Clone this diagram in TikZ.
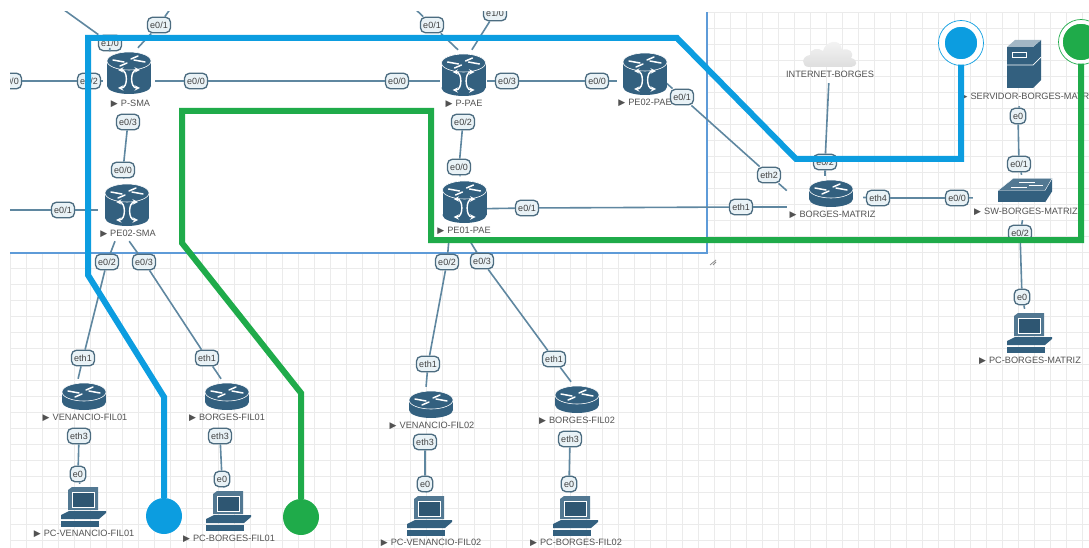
\documentclass[tikz,border=0pt]{standalone}
\usepackage{fontspec}
\setmainfont{Liberation Sans}
\newfontfamily\trifont{DejaVu Sans}
\definecolor{devblue}{HTML}{33607F}
\definecolor{linkgray}{HTML}{5F87A0}
\definecolor{portfill}{HTML}{E9F2F6}
\definecolor{pathblue}{HTML}{0C9DE0}
\definecolor{pathgreen}{HTML}{1FAB4A}
\definecolor{framblue}{HTML}{5E9BD8}
\newcommand{\tri}{{\trifont\fontsize{9}{9}\selectfont ▶}\,\,}
\newcommand{\arrowtop}[1]{
\draw[white,line width=1.5,line cap=round] (-16,#1-1)--(-5,#1+1) (16,#1+1)--(5,#1-1) (-9,#1+5)--(-2,#1+2) (9,#1-5)--(2,#1-2);
}
\tikzset{
devbox/.style={inner sep=0,minimum width=#1},
port/.style={draw=linkgray!80!black,fill=portfill,rounded corners=5,line width=1.3,inner xsep=2.8,inner ysep=0,minimum height=15.5,text=black!75,font=\fontsize{9}{9}\selectfont},
devlabel/.style={inner sep=0,text=black!68,font=\fontsize{9.2}{10}\selectfont},
link/.style={draw=linkgray,line width=1.6},
bluepath/.style={draw=pathblue,line width=6},
greenpath/.style={draw=pathgreen,line width=6},
mplsrouter/.pic={
\fill[devblue] (-22,-12) rectangle (22,13);
\fill[devblue] (0,13) ellipse [x radius=22,y radius=8];
\fill[devblue,draw=white,line width=0.6] (0,-12) ellipse [x radius=22,y radius=9];
\arrowtop{-12}
\draw[white,line width=1.4,<->,>=stealth] (-11,-3) .. controls (-1,-3) and (-1,15) .. (-11,15);
\draw[white,line width=1.4,<->,>=stealth] (11,-3) .. controls (1,-3) and (1,15) .. (11,15);
},
flatrouter/.pic={
\fill[devblue] (-22,-4) rectangle (22,6);
\fill[devblue] (0,6) ellipse [x radius=22,y radius=8];
\fill[devblue,draw=white,line width=0.6] (0,-4) ellipse [x radius=22,y radius=9];
\arrowtop{-4}
},
pcicon/.pic={
\fill[devblue!85!white] (-16,-17)--(-12,-20)--(14,-20)--(14,3)--(-16,3)--cycle;
\fill[devblue!90!black] (-12,-15) rectangle (10,0);
\draw[white,line width=0.5] (-12,-15) rectangle (10,0);
\fill[devblue] (-23,8)--(-15,4)--(22,4)--(22,6)--(15,12)--(-23,12)--cycle;
\fill[devblue] (-23,14)--(15,14)--(15,20)--(-23,20)--cycle;
},
switchicon/.pic={
\fill[devblue] (-27,0) rectangle (20,12);
\fill[devblue] (20,0)--(27,-12)--(27,1)--(20,12)--cycle;
\fill[devblue!85!white,draw=white,line width=0.4] (-27,0)--(-12,-12)--(27,-12)--(20,0)--cycle;
\draw[white,line width=0.8] (-14,-3)--(2,-3) (-6,-8)--(10,-8) (4,-5)--(18,-5);
},
servericon/.pic={
\fill[devblue] (-17,-17) rectangle (9,24);
\fill[devblue] (9,-17)--(17,-24)--(17,16)--(9,24)--cycle;
\fill[devblue!45!white] (-17,-17)--(-9,-24)--(17,-24)--(9,-17)--cycle;
\draw[white,line width=0.7] (-17,1)--(9,1)--(17,-7);
\draw[white,line width=0.6] (-12,-12) rectangle (2,-7);
},
cloudicon/.pic={
\shade[top color=black!3,bottom color=black!13] (-22,15) .. controls (-30,15) and (-30,4) .. (-21,3) .. controls (-22,-3) and (-12,-5) .. (-8,-1) .. controls (-6,-11) and (10,-15) .. (11,-2) .. controls (18,-5) and (24,1) .. (20,6) .. controls (28,8) and (26,15) .. (20,15) -- cycle;
}
}
\begin{document}
\begin{tikzpicture}[x=1pt,y=-1pt]
\useasboundingbox (0,0) rectangle (1089,548);
\begin{scope}
\clip (10,12) rectangle (1089,548);
\foreach \x in {10,26,...,1089}
\draw[black!8,line width=0.6] (\x,12) -- (\x,548);
\foreach \y in {12,28,...,548}
\draw[black!8,line width=0.6] (10,\y) -- (1089,\y);
\fill[white] (10,12) rectangle (707,253);
\draw[framblue,line width=1.5] (10,253) -- (707,253) -- (707,12);
\draw[black!45,line width=0.8] (710,265) -- (716,260) (713,265) -- (716,262);
\foreach \n/\x/\y/\w/\h in {psma/129/81/52/66,pe02sma/127/210/58/62,pae/463.5/81/47/62,pe02pae/645/81/56/62,pe01pae/464/209/42/65,borges/825/196/76/40,swborges/1027/197.5/108/45,servidor/1024/68/50/76,internet/830/58/60/50,venfil01/84/396/50/34,borfil01/227/396/50/34,venfil02/431/404/50/34,borfil02/577/399/50/34,pcven01/84/507/50/46,pcbor01/229/511/50/46,pcven02/430/516/50/46,pcbor02/576/516/50/46,pcmatriz/1030/333/50/48}
\node[devbox=\w,minimum height=\h] (\n) at (\x,\y) {};
\foreach \n/\x/\y/\t in {psmaa/110/43/{e1/0},psmab/159/25/{e0/1},psmac/89/81/{e0/2},psmad/196/81/{e0/0},psmae/128/122/{e0/3},leftport/10/81/{e0/0},
pesmaa/123/170/{e0/0},pesmab/63/210/{e0/1},pesmac/107/262/{e0/2},pesmad/144/262/{e0/3},
paea/432/25/{e0/1},paeb/495/13/{e1/0},paec/397/81/{e0/0},paed/507/81/{e0/3},paee/463/122/{e0/2},
pepaea/459/167/{e0/0},pepaeb/527/208/{e0/1},pepaec/447/262/{e0/2},pepaed/482/261/{e0/3},
pedoisa/597/81/{e0/0},pedoisb/682/97/{e0/1},
borgesa/769/175/eth2,borgesb/741/207/eth1,borgesc/825/162/{e0/2},borgesd/878/198/eth4,
swa/957/198/{e0/0},swb/1019/164/{e0/1},swc/1020/233/{e0/2},serva/1018/116/e0,pcmata/1022/297/e0,
venaa/83/358/eth1,veneb/79/436/eth3,venec/78/474/e0,boraa/207/358/eth1,boreb/220/436/eth3,borec/222/479/e0,
vendoa/428/364/eth1,vendob/425/442/eth3,vendoc/425/484/e0,bordoa/554/359/eth1,bordob/570/439/eth3,bordoc/569/484/e0}
\node[port] (\n) at (\x,\y) {\t};
\coordinate (psmaout) at (60,7);
\coordinate (psmaup) at (173,5);
\coordinate (paeout) at (411,5);
\coordinate (leftin) at (0,210);
\coordinate (pedoisout) at (664,81);
\draw[link] (psmaout) -- (psmaa) -- (psma.120);
\draw[link] (psmaup) -- (psmab) -- (psma.75);
\draw[link] (leftport) -- (psmac) -- (psma);
\draw[link] (psma) -- (psmad) -- (paec) -- (pae);
\draw[link] (psmae) -- (pesmaa) -- (pe02sma);
\draw[link] (leftin) -- (pesmab) -- (pe02sma);
\draw[link] (pe02sma) -- (pesmac) -- (venaa) -- (venfil01.109);
\draw[link] (pe02sma.-86) -- (pesmad) -- (boraa) -- (borfil01.109);
\draw[link] (veneb) -- (venec) -- (pcven01);
\draw[link] (boreb) -- (borec) -- (pcbor01);
\draw[link] (paeout) -- (paea) -- (pae.100);
\draw[link] (paeb) -- (pae.75);
\draw[link] (pae) -- (paed) -- (pedoisa) -- (pe02pae);
\draw[link] (pedoisout) -- (pedoisb) -- (borgesa) -- (borges.172);
\draw[link] (paee) -- (pepaea) -- (pe01pae);
\draw[link] (pe01pae) -- (pepaeb) -- (borgesb) -- (borges.196);
\draw[link] (pe01pae.-115) -- (pepaec) -- (vendoa) -- (venfil02.106);
\draw[link] (pe01pae.-79) -- (pepaed) -- (bordoa) -- (borfil02.109);
\draw[link] (vendob) -- (vendoc) -- (pcven02);
\draw[link] (bordob) -- (bordoc) -- (pcbor02);
\draw[link] (internet) -- (borgesc) -- (borges);
\draw[link] (borges) -- (borgesd) -- (swa) -- (swborges);
\draw[link] (servidor) -- (serva) -- (swb) -- (swborges);
\draw[link] (swborges) -- (swc) -- (pcmata) -- (pcmatriz);
\foreach \x/\y in {129/73,127/205,463.5/75,645/74,464.5/202}
\pic at (\x,\y) {mplsrouter};
\foreach \x/\y in {831/193,84/396,227/396,431/404,577/399}
\pic at (\x,\y) {flatrouter};
\foreach \x/\y in {84/507,229/511,430/516,576/516,1030/333}
\pic at (\x,\y) {pcicon};
\pic at (1025,190.5) {switchicon};
\pic at (1024,64) {servericon};
\pic at (831,52) {cloudicon};
\foreach \n/\x/\y/\t in {psmal/130.5/103.5/P-SMA,pe02smal/128/233.5/PE02-SMA,pael/464/103.5/P-PAE,pe02pael/645/103/PE02-PAE,pe01pael/464/231/PE01-PAE,borgesl/832.5/215/BORGES-MATRIZ,swborgesl/1026/212/SW-BORGES-MATRIZ,servidorl/1029/97/SERVIDOR-BORGES-MATRIZ,venfil01l/85/418/VENANCIO-FIL01,borfil01l/227/418/BORGES-FIL01,venfil02l/432/426/VENANCIO-FIL02,borfil02l/577/421/BORGES-FIL02,pcven01l/84/534/PC-VENANCIO-FIL01,pcbor01l/229/539/PC-BORGES-FIL01,pcven02l/431/543/PC-VENANCIO-FIL02,pcbor02l/576/543/PC-BORGES-FIL02,pcmatrizl/1030/361/PC-BORGES-MATRIZ}
\node[devlabel] (\n) at (\x,\y) {\tri\t};
\node[devlabel] (internetl) at (830,74) {INTERNET-BORGES};
\node[circle,inner sep=0,minimum size=36,fill=pathblue] (bluefil) at (164,516) {};
\node[circle,inner sep=0,minimum size=36,fill=pathgreen] (greenfil) at (301,517) {};
\node[circle,inner sep=0,fill=pathblue,draw=white,line width=5.5,minimum size=38] (bluetop) at (961,43) {};
\draw[pathblue,line width=0.7] (bluetop) circle (22.5);
\node[circle,inner sep=0,fill=pathgreen,draw=white,line width=3.5,minimum size=40] (greentop) at (1081,42) {};
\draw[pathgreen,line width=0.7] (greentop) circle (22.5);
\foreach \n/\x/\y in {ba/164/397,bb/88/275,bc/88/38,bd/677/38,be/796/159,bf/961/159,ga/301/393,gb/182/243,gc/182/111,gd/431/111,ge/431/240,gf/1081/240}
\coordinate (\n) at (\x,\y);
\draw[bluepath] (bluefil) -- (ba) -- (bb) -- (bc) -- (bd) -- (be) -- (bf) -- (bluetop.south);
\draw[greenpath] (greenfil) -- (ga) -- (gb) -- (gc) -- (gd) -- (ge) -- (gf) -- (greentop.south);
\end{scope}
\end{tikzpicture}
\end{document}
